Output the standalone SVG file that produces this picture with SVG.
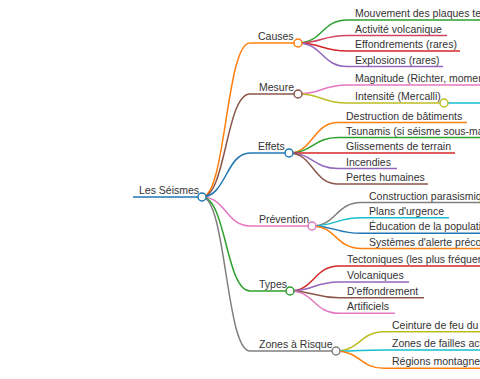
<svg xmlns="http://www.w3.org/2000/svg" width="480" height="379" viewBox="0 0 480 379">
<style>
text{font-family:"Liberation Sans",Arial,sans-serif;font-size:10.5px;fill:#333}
path,line{fill:none;stroke-width:1.5}
circle{fill:#fff;stroke-width:1.5}
</style>
<rect width="480" height="379" fill="#fff"/>
<g id="connectors">
<path d="M202 197C226 197 226 43 250 43" stroke="#ff7f0e"/>
<path d="M202 197C226 197 226 94 250 94" stroke="#8c564b"/>
<path d="M202 197C226 197 226 153 250 153" stroke="#1f77b4"/>
<path d="M202 197C226 197 226 226 250 226" stroke="#e377c2"/>
<path d="M202 197C226 197 226 291 250 291" stroke="#2ca02c"/>
<path d="M202 197C226 197 226 351 250 351" stroke="#7f7f7f"/>
<path d="M298 43C322 43 322 20 347 20" stroke="#2ca02c"/>
<path d="M298 43C322 43 322 35.5 347 35.5" stroke="#d0455f"/>
<path d="M298 43C322 43 322 51 347 51" stroke="#d62728"/>
<path d="M298 43C322 43 322 66.5 347 66.5" stroke="#9467bd"/>
<path d="M298 94C322 94 322 85 347 85" stroke="#e377c2"/>
<path d="M298 94C322 94 322 103 347 103" stroke="#bcbd22"/>
<line x1="444" y1="103" x2="490" y2="103" stroke="#17becf"/>
<path d="M289 153C313 153 313 122.5 338 122.5" stroke="#ff7f0e"/>
<path d="M289 153C313 153 313 137.5 338 137.5" stroke="#2ca02c"/>
<path d="M289 153C313 153 313 153 338 153" stroke="#d62728"/>
<path d="M289 153C313 153 313 168.5 338 168.5" stroke="#9467bd"/>
<path d="M289 153C313 153 313 184 338 184" stroke="#8c564b"/>
<path d="M312 226C336 226 336 202.5 361 202.5" stroke="#7f7f7f"/>
<path d="M312 226C336 226 336 217.7 361 217.7" stroke="#17becf"/>
<path d="M312 226C336 226 336 233.3 361 233.3" stroke="#1f77b4"/>
<path d="M312 226C336 226 336 248.5 361 248.5" stroke="#ff7f0e"/>
<path d="M290 291C314 291 314 266 339 266" stroke="#d62728"/>
<path d="M290 291C314 291 314 282 339 282" stroke="#9467bd"/>
<path d="M290 291C314 291 314 297.7 339 297.7" stroke="#8c564b"/>
<path d="M290 291C314 291 314 313.3 339 313.3" stroke="#e377c2"/>
<path d="M336 351C360 351 360 331.7 384 331.7" stroke="#bcbd22"/>
<path d="M336 351C360 351 360 350 384 350" stroke="#17becf"/>
<path d="M336 351C360 351 360 368.3 384 368.3" stroke="#ff7f0e"/>
</g>
<g id="root"><line x1="133" y1="197" x2="202" y2="197" stroke="#1f77b4"/><text x="139" y="193.5">Les Séismes</text><circle cx="202" cy="197" r="4" stroke="#1f77b4"/></g>
<g id="causes"><line x1="250" y1="43" x2="298" y2="43" stroke="#ff7f0e"/><text x="258" y="40">Causes</text><circle cx="298" cy="43" r="4" stroke="#ff7f0e"/></g>
<g id="mesure"><line x1="250" y1="94" x2="298" y2="94" stroke="#8c564b"/><text x="259" y="91">Mesure</text><circle cx="298" cy="94" r="4" stroke="#8c564b"/></g>
<g id="effets"><line x1="250" y1="153" x2="289" y2="153" stroke="#1f77b4"/><text x="258" y="150">Effets</text><circle cx="289" cy="153" r="4" stroke="#1f77b4"/></g>
<g id="prevention"><line x1="250" y1="226" x2="312" y2="226" stroke="#e377c2"/><text x="259" y="223">Prévention</text><circle cx="312" cy="226" r="4" stroke="#e377c2"/></g>
<g id="types"><line x1="250" y1="291" x2="290" y2="291" stroke="#2ca02c"/><text x="259" y="288">Types</text><circle cx="290" cy="291" r="4" stroke="#2ca02c"/></g>
<g id="zones"><line x1="250" y1="351" x2="336" y2="351" stroke="#7f7f7f"/><text x="259" y="348">Zones à Risque</text><circle cx="336" cy="351" r="4" stroke="#7f7f7f"/></g>
<g id="c1"><line x1="347" y1="20" x2="600" y2="20" stroke="#2ca02c"/><text x="355" y="17">Mouvement des plaques tectoniques</text></g>
<g id="c2"><line x1="347" y1="35.5" x2="447" y2="35.5" stroke="#d0455f"/><text x="355" y="32.5">Activité volcanique</text></g>
<g id="c3"><line x1="347" y1="51" x2="460" y2="51" stroke="#d62728"/><text x="355" y="48">Effondrements (rares)</text></g>
<g id="c4"><line x1="347" y1="66.5" x2="443" y2="66.5" stroke="#9467bd"/><text x="355" y="63.5">Explosions (rares)</text></g>
<g id="m1"><line x1="347" y1="85" x2="600" y2="85" stroke="#e377c2"/><text x="355" y="82">Magnitude (Richter, moment)</text></g>
<g id="m2"><line x1="347" y1="103" x2="444" y2="103" stroke="#bcbd22"/><text x="355" y="100">Intensité (Mercalli)</text><circle cx="444" cy="103" r="4" stroke="#bcbd22"/></g>
<g id="e1"><line x1="338" y1="122.5" x2="467" y2="122.5" stroke="#ff7f0e"/><text x="346" y="119.5">Destruction de bâtiments</text></g>
<g id="e2"><line x1="338" y1="137.5" x2="600" y2="137.5" stroke="#2ca02c"/><text x="346" y="134.5">Tsunamis (si séisme sous-marin)</text></g>
<g id="e3"><line x1="338" y1="153" x2="455" y2="153" stroke="#d62728"/><text x="346" y="150">Glissements de terrain</text></g>
<g id="e4"><line x1="338" y1="168.5" x2="397" y2="168.5" stroke="#9467bd"/><text x="346" y="165.5">Incendies</text></g>
<g id="e5"><line x1="338" y1="184" x2="428" y2="184" stroke="#8c564b"/><text x="346" y="181">Pertes humaines</text></g>
<g id="p1"><line x1="361" y1="202.5" x2="600" y2="202.5" stroke="#7f7f7f"/><text x="369" y="199.5">Construction parasismique</text></g>
<g id="p2"><line x1="361" y1="217.7" x2="449" y2="217.7" stroke="#17becf"/><text x="369" y="214.7">Plans d'urgence</text></g>
<g id="p3"><line x1="361" y1="233.3" x2="600" y2="233.3" stroke="#1f77b4"/><text x="369" y="230.3">Éducation de la population</text></g>
<g id="p4"><line x1="361" y1="248.5" x2="600" y2="248.5" stroke="#ff7f0e"/><text x="369" y="245.5">Systèmes d'alerte précoce</text></g>
<g id="t1"><line x1="339" y1="266" x2="600" y2="266" stroke="#d62728"/><text x="347" y="263">Tectoniques (les plus fréquents)</text></g>
<g id="t2"><line x1="339" y1="282" x2="409" y2="282" stroke="#9467bd"/><text x="347" y="279">Volcaniques</text></g>
<g id="t3"><line x1="339" y1="297.7" x2="424" y2="297.7" stroke="#8c564b"/><text x="347" y="294.7">D'effondrement</text></g>
<g id="t4"><line x1="339" y1="313.3" x2="395" y2="313.3" stroke="#e377c2"/><text x="347" y="310.3">Artificiels</text></g>
<g id="z1"><line x1="384" y1="331.7" x2="600" y2="331.7" stroke="#bcbd22"/><text x="392" y="328.7">Ceinture de feu du Pacifique</text></g>
<g id="z2"><line x1="384" y1="350" x2="600" y2="350" stroke="#17becf"/><text x="392" y="347">Zones de failles actives</text></g>
<g id="z3"><line x1="384" y1="368.3" x2="600" y2="368.3" stroke="#ff7f0e"/><text x="392" y="365.3">Régions montagneuses</text></g>
</svg>
